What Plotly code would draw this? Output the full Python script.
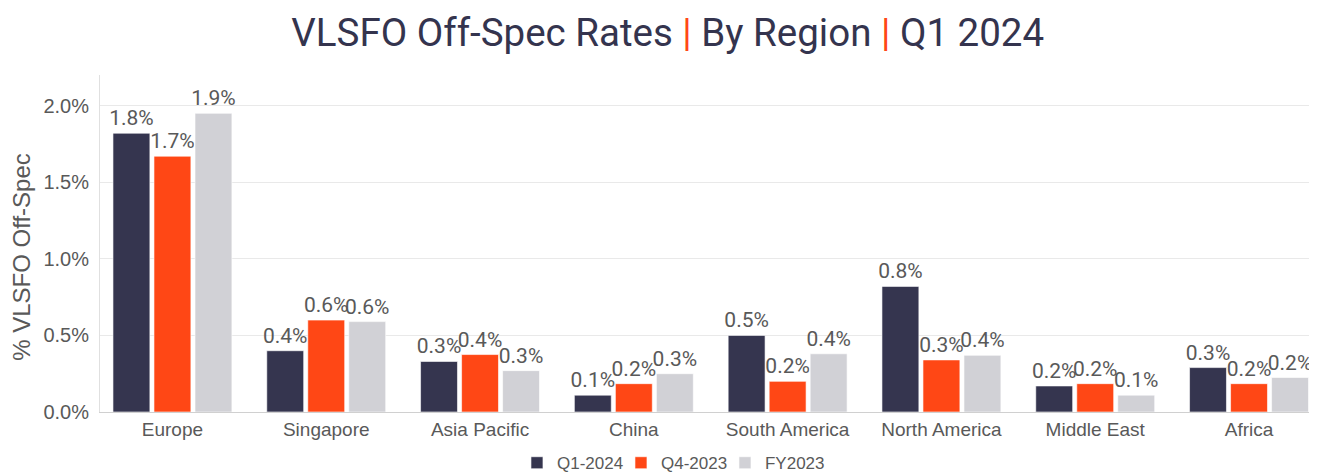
import plotly.graph_objects as go

regions = ["Europe", "Singapore", "Asia Pacific", "China", "South America",
           "North America", "Middle East", "Africa"]
q1_2024 = [1.82, 0.40, 0.33, 0.11, 0.50, 0.82, 0.17, 0.29]
q4_2023 = [1.67, 0.60, 0.375, 0.185, 0.20, 0.34, 0.185, 0.185]
fy2023 = [1.95, 0.59, 0.27, 0.25, 0.38, 0.37, 0.11, 0.225]

series = [
    ("Q1-2024", q1_2024, "#35354f"),
    ("Q4-2023", q4_2023, "#ff4715"),
    ("FY2023", fy2023, "#d1d1d6"),
]

fig = go.Figure()
for name, vals, col in series:
    fig.add_trace(go.Bar(
        x=regions, y=vals, name=name,
        marker=dict(color=col, line=dict(color="rgba(255,255,255,0.6)", width=1)),
        texttemplate="%{y:.1f}%", textposition="outside",
        textfont=dict(family="Roboto", size=21, color="#595959"),
        cliponaxis=False, constraintext="none",
    ))

fig.update_layout(
    width=1309, height=464,
    paper_bgcolor="white", plot_bgcolor="white",
    margin=dict(l=92, r=0, t=67, b=60),
    barmode="group", bargap=0.2, bargroupgap=0.1,
    title=dict(
        text="VLSFO Off-Spec Rates <span style='color:#ff4715'>|</span> By Region "
             "<span style='color:#ff4715'>|</span> Q1 2024",
        x=0.504, xanchor="center", y=0.948, yanchor="middle",
        font=dict(family="Roboto", size=38.5, color="#34344e"),
        automargin=False,
    ),
    legend=dict(
        orientation="h", xref="container", yref="container",
        x=0.508, xanchor="center", y=0.019, yanchor="middle",
        font=dict(family="Liberation Sans", size=17, color="#595959"),
        itemwidth=30, entrywidth=59, traceorder="normal",
    ),
    xaxis=dict(
        range=[-0.471, 7.442], showgrid=False, automargin=False,
        showline=True, linecolor="#d0d0d0", linewidth=1,
        ticks="", tickfont=dict(family="Liberation Sans", size=19, color="#595959"),
    ),
    yaxis=dict(
        range=[0, 2.2], dtick=0.5, tickformat=".1f", ticksuffix="%",
        showgrid=True, gridcolor="#e9e9e9", gridwidth=1, automargin=False,
        showline=True, linecolor="#e0e0e0", linewidth=1,
        zeroline=False, ticklabelstandoff=6,
        tickfont=dict(family="Liberation Sans", size=20, color="#595959"),
    ),
    annotations=[dict(
        text="% VLSFO Off-Spec", textangle=-90, showarrow=False,
        xref="paper", yref="paper", x=-0.0645, y=0.459,
        xanchor="center", yanchor="middle",
        font=dict(family="Liberation Sans", size=24, color="#595959"),
    )],
)

fig.write_html("out.html")
